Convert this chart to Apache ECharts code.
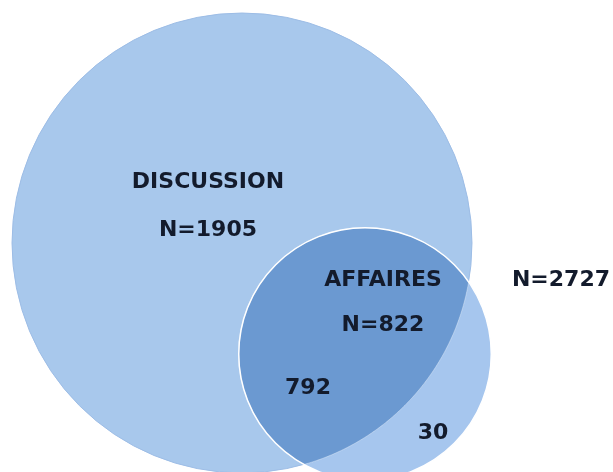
<!DOCTYPE html>
<html><head><meta charset="utf-8">
<script src="https://cdn.jsdelivr.net/npm/echarts@6/dist/echarts.min.js"></script>
<style>html,body{margin:0;padding:0;background:#fff}#c{width:613px;height:472px}</style>
</head><body><div id="c"></div>
<script>
// ---- data ----
const setNames = ['DISCUSSION', 'AFFAIRES'];
const setTotals = [1905, 822];
const circleSizeValues = [2727, 822];   // circle areas proportional to these
const overlapValue = 792;
const affairesOnlyValue = 30;
const grandTotal = 2727;

// ---- layout (axis units) ----
const centers = [[242, 243], [365, 354]];
const radiusPerSqrt = 4.404;
const radii = circleSizeValues.map(v => radiusPerSqrt * Math.sqrt(v));

function arcPts(c, r, p, q, oc, orr, pts) {
  const t0 = Math.atan2(p[1] - c[1], p[0] - c[0]);
  let tp = Math.atan2(q[1] - c[1], q[0] - c[0]);
  while (tp < t0) tp += 2 * Math.PI;
  const mid = (t0 + tp) / 2;
  const mx = c[0] + r * Math.cos(mid), my = c[1] + r * Math.sin(mid);
  const end = Math.hypot(mx - oc[0], my - oc[1]) <= orr ? tp : tp - 2 * Math.PI;
  const n = 160;
  for (let k = 0; k <= n; k++) {
    const t = t0 + (end - t0) * k / n;
    pts.push([c[0] + r * Math.cos(t), c[1] + r * Math.sin(t)]);
  }
}
function lensPoints(a, ra, b, rb) {
  const dx = b[0] - a[0], dy = b[1] - a[1], d = Math.hypot(dx, dy);
  const aa = (d * d + ra * ra - rb * rb) / (2 * d), h = Math.sqrt(ra * ra - aa * aa);
  const ux = dx / d, uy = dy / d;
  const mx = a[0] + aa * ux, my = a[1] + aa * uy;
  const p1 = [mx - h * uy, my + h * ux], p2 = [mx + h * uy, my - h * ux];
  const pts = [];
  arcPts(b, rb, p1, p2, a, ra, pts);
  arcPts(a, ra, p2, p1, b, rb, pts);
  return pts;
}

function renderItem(params, api) {
  const i = params.dataIndex;
  const c = api.coord([api.value(0), api.value(1)]);
  const r = api.size([api.value(2), 0])[0];
  if (i === 0) {
    return { type: 'circle', shape: { cx: c[0], cy: c[1], r: r },
      style: { fill: '#a8c8ec', stroke: '#9dbde6', lineWidth: 1 } };
  }
  const c0 = api.coord(centers[0]);
  const r0 = api.size([radii[0], 0])[0];
  const lens = lensPoints(c0, r0, c, r);
  return { type: 'group', children: [
    { type: 'circle', shape: { cx: c[0], cy: c[1], r: r }, style: { fill: '#a6c6ee' } },
    { type: 'polygon', shape: { points: lens }, style: { fill: '#6b99d1', stroke: 'rgba(255,255,255,0.35)', lineWidth: 1 } },
    { type: 'circle', shape: { cx: c[0], cy: c[1], r: r }, style: { fill: 'none', stroke: '#ffffff', lineWidth: 1.5 } }
  ]};
}

const chart = echarts.init(document.getElementById('c'));
const txt = (x, y, s) => ({
  type: 'text', x: x, y: y, z: 100,
  style: { text: s, fill: '#131b2c', font: 'bold 22px "DejaVu Sans"', align: 'center', verticalAlign: 'middle' }
});
chart.setOption({
  animation: false,
  backgroundColor: '#ffffff',
  grid: { left: 0, right: 0, top: 0, bottom: 0 },
  xAxis: { type: 'value', min: 0, max: 613, show: false },
  yAxis: { type: 'value', min: 0, max: 472, inverse: true, show: false },
  series: [{
    type: 'custom',
    renderItem: renderItem,
    clip: false,
    data: setNames.map((n, i) => [centers[i][0], centers[i][1], radii[i]])
  }],
  graphic: [
    txt(208, 182, setNames[0]),
    txt(208, 230, 'N=' + setTotals[0]),
    txt(383, 280, setNames[1]),
    txt(383, 325, 'N=' + setTotals[1]),
    txt(308, 388, String(overlapValue)),
    txt(433, 433, String(affairesOnlyValue)),
    txt(561, 280, 'N=' + grandTotal)
  ]
});
</script></body></html>
